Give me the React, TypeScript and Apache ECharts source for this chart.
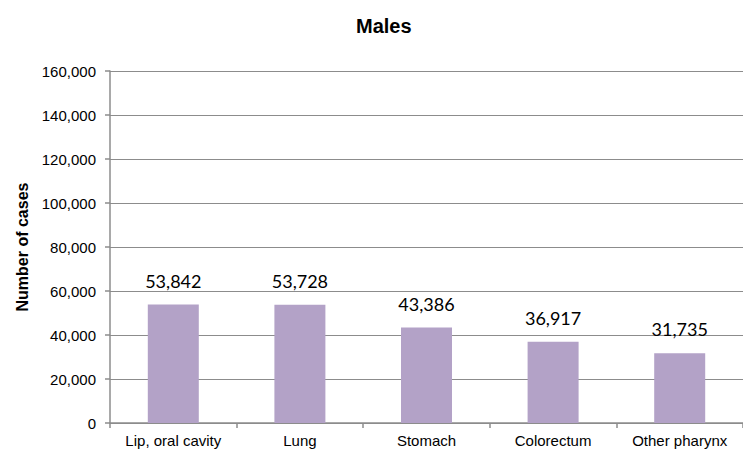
import React, { useEffect, useRef } from "react";
import * as echarts from "echarts";

const categories = ["Lip, oral cavity", "Lung", "Stomach", "Colorectum", "Other pharynx"];
const cases = [53842, 53728, 43386, 36917, 31735];
const yTicks = { min: 0, max: 160000, interval: 20000 };

export default function App() {
  const ref = useRef<HTMLDivElement>(null);
  useEffect(() => {
    if (!ref.current) return;
    const chart = echarts.init(ref.current, undefined, { renderer: "svg" });
    chart.setOption({
      animation: false,
      backgroundColor: "#ffffff",
      title: {
        text: "Males",
        left: 356,
        top: 16,
        padding: 0,
        textStyle: { fontFamily: "Liberation Sans, Arial", fontWeight: "bold", fontSize: 20, color: "#000" },
      },
      grid: { left: 110, top: 71, width: 640, height: 352, containLabel: false },
      xAxis: {
        type: "category",
        data: categories,
        axisLine: { lineStyle: { color: "#8c8c8c", width: 1.5 } },
        axisTick: { show: true, length: 5, alignWithLabel: false, lineStyle: { color: "#8c8c8c", width: 1.5 } },
        axisLabel: { color: "#000", fontFamily: "Liberation Sans, Arial", fontSize: 15, margin: 10 },
      },
      yAxis: {
        type: "value",
        min: yTicks.min,
        max: yTicks.max,
        interval: yTicks.interval,
        name: "Number of cases",
        nameLocation: "middle",
        nameGap: 79,
        nameTextStyle: { fontFamily: "Liberation Sans, Arial", fontWeight: "bold", fontSize: 16, color: "#000" },
        axisLine: { show: true, lineStyle: { color: "#8c8c8c", width: 1.5 } },
        axisTick: { show: true, length: 5, lineStyle: { color: "#8c8c8c", width: 1.5 } },
        splitLine: { show: true, lineStyle: { color: "#8c8c8c", width: 1.2 } },
        axisLabel: {
          color: "#000",
          fontFamily: "Liberation Sans, Arial",
          fontSize: 15,
          margin: 14,
          formatter: (v: number) => v.toLocaleString("en-US"),
        },
      },
      series: [
        {
          type: "bar",
          data: cases,
          barWidth: 51,
          itemStyle: { color: "#b3a2c7" },
          label: {
            show: true,
            position: "top",
            distance: 15,
            color: "#000",
            fontFamily: "Lato, Open Sans, sans-serif",
            fontSize: 18,
            formatter: (p: any) => Number(p.value).toLocaleString("en-US"),
          },
        },
      ],
    });
    return () => chart.dispose();
  }, []);
  return <div ref={ref} style={{ position: "fixed", left: 0, top: 0, width: 743, height: 452 }} />;
}
